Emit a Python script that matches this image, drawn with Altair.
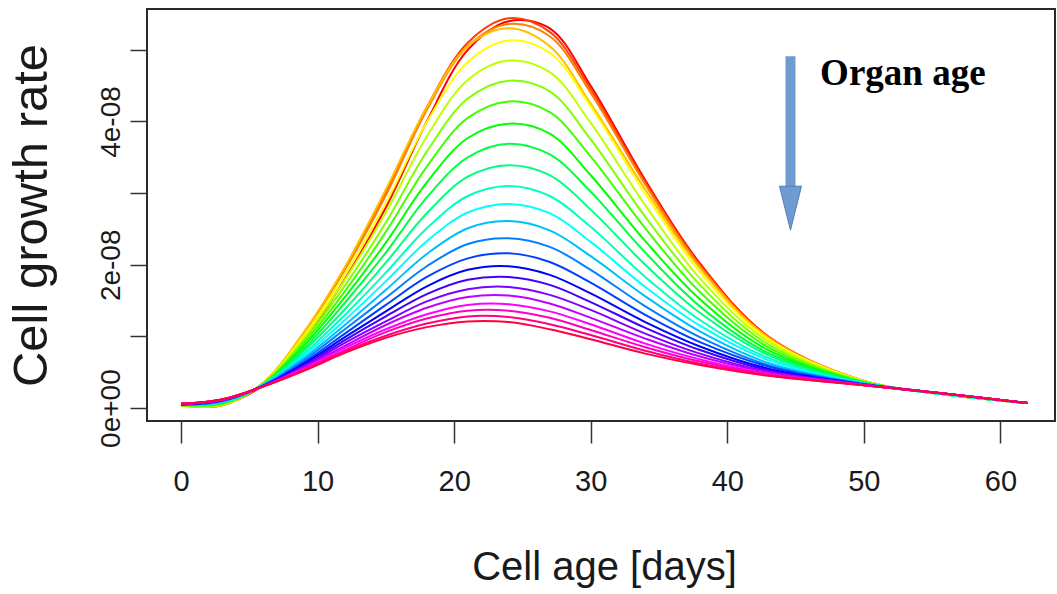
import altair as alt
import pandas as pd

# ---- data (rates in units of 1e-08) ----
days = [0, 3, 6, 9, 12, 15, 18, 21, 24, 27, 30, 34, 38, 43, 50, 56, 62]

c01 = [0.04, 0.05, 0.32, 0.95, 1.80, 2.80, 4.00, 5.00, 5.40, 5.30, 4.50, 3.18, 2.02, 1.00, 0.38, 0.19, 0.07]
c02 = [0.04, 0.04, 0.35, 1.05, 1.95, 3.00, 4.20, 5.10, 5.44, 5.25, 4.45, 3.15, 2.00, 1.00, 0.38, 0.19, 0.07]
c03 = [0.04, 0.04, 0.35, 1.04, 1.93, 2.97, 4.16, 5.05, 5.36, 5.19, 4.40, 3.12, 1.98, 0.99, 0.38, 0.19, 0.07]
c04 = [0.04, 0.04, 0.35, 1.06, 1.97, 3.05, 4.20, 5.05, 5.30, 5.05, 4.25, 3.05, 1.95, 0.98, 0.38, 0.19, 0.07]
c05 = [0.04, 0.05, 0.35, 1.01, 1.87, 2.86, 3.99, 4.83, 5.13, 4.96, 4.21, 2.99, 1.90, 0.96, 0.38, 0.19, 0.07]
c06 = [0.04, 0.05, 0.34, 0.98, 1.79, 2.73, 3.79, 4.58, 4.85, 4.69, 3.98, 2.83, 1.81, 0.93, 0.37, 0.19, 0.07]
c07 = [0.04, 0.06, 0.34, 0.94, 1.71, 2.59, 3.58, 4.32, 4.57, 4.42, 3.75, 2.67, 1.72, 0.89, 0.37, 0.19, 0.07]
c08 = [0.04, 0.06, 0.34, 0.91, 1.63, 2.46, 3.37, 4.05, 4.28, 4.13, 3.51, 2.51, 1.62, 0.85, 0.36, 0.19, 0.07]
c09 = [0.05, 0.07, 0.33, 0.87, 1.55, 2.31, 3.15, 3.77, 3.97, 3.83, 3.25, 2.33, 1.52, 0.81, 0.36, 0.19, 0.07]
c10 = [0.05, 0.07, 0.33, 0.83, 1.47, 2.17, 2.94, 3.50, 3.69, 3.54, 3.02, 2.17, 1.42, 0.77, 0.36, 0.19, 0.07]
c11 = [0.05, 0.08, 0.33, 0.80, 1.38, 2.03, 2.72, 3.23, 3.39, 3.25, 2.77, 2.00, 1.33, 0.74, 0.35, 0.19, 0.07]
c12 = [0.05, 0.08, 0.32, 0.76, 1.30, 1.89, 2.51, 2.96, 3.10, 2.96, 2.53, 1.83, 1.23, 0.70, 0.35, 0.19, 0.07]
c13 = [0.05, 0.09, 0.32, 0.73, 1.23, 1.77, 2.33, 2.73, 2.85, 2.72, 2.32, 1.69, 1.15, 0.67, 0.34, 0.19, 0.07]
c14 = [0.05, 0.09, 0.32, 0.70, 1.16, 1.65, 2.15, 2.51, 2.61, 2.48, 2.12, 1.56, 1.07, 0.63, 0.34, 0.20, 0.07]
c15 = [0.05, 0.10, 0.31, 0.67, 1.10, 1.54, 1.98, 2.29, 2.37, 2.25, 1.93, 1.42, 0.99, 0.60, 0.34, 0.20, 0.07]
c16 = [0.05, 0.10, 0.31, 0.64, 1.04, 1.44, 1.83, 2.09, 2.16, 2.04, 1.75, 1.30, 0.92, 0.58, 0.33, 0.20, 0.07]
c17 = [0.05, 0.11, 0.31, 0.62, 0.99, 1.35, 1.70, 1.93, 1.98, 1.86, 1.60, 1.20, 0.86, 0.55, 0.33, 0.20, 0.07]
c18 = [0.05, 0.11, 0.31, 0.60, 0.95, 1.28, 1.59, 1.79, 1.83, 1.72, 1.48, 1.12, 0.81, 0.53, 0.33, 0.20, 0.07]
c19 = [0.06, 0.11, 0.31, 0.58, 0.91, 1.21, 1.49, 1.66, 1.69, 1.58, 1.37, 1.04, 0.76, 0.51, 0.33, 0.20, 0.07]
c20 = [0.06, 0.11, 0.30, 0.57, 0.87, 1.16, 1.40, 1.55, 1.57, 1.46, 1.26, 0.97, 0.72, 0.50, 0.33, 0.20, 0.07]
c21 = [0.06, 0.12, 0.30, 0.55, 0.84, 1.10, 1.31, 1.44, 1.45, 1.35, 1.17, 0.90, 0.68, 0.48, 0.32, 0.20, 0.07]
c22 = [0.06, 0.12, 0.30, 0.54, 0.81, 1.06, 1.25, 1.36, 1.36, 1.26, 1.09, 0.85, 0.65, 0.47, 0.32, 0.20, 0.07]
c23 = [0.06, 0.12, 0.30, 0.53, 0.79, 1.01, 1.18, 1.28, 1.27, 1.17, 1.02, 0.80, 0.62, 0.46, 0.32, 0.20, 0.07]
c24 = [0.06, 0.12, 0.30, 0.52, 0.77, 0.98, 1.13, 1.21, 1.20, 1.10, 0.96, 0.76, 0.60, 0.45, 0.32, 0.20, 0.07]

curves = [c01, c02, c03, c04, c05, c06, c07, c08, c09, c10, c11, c12,
          c13, c14, c15, c16, c17, c18, c19, c20, c21, c22, c23, c24]

colors = ["#FF0000", "#FF4000", "#FF8000", "#FFBF00", "#FFFF00", "#BFFF00",
          "#80FF00", "#40FF00", "#00FF00", "#00FF40", "#00FF80", "#00FFBF",
          "#00FFFF", "#00BFFF", "#0080FF", "#0040FF", "#0000FF", "#4000FF",
          "#8000FF", "#BF00FF", "#FF00FF", "#FF00BF", "#FF0080", "#FF0040"]

x_ticks = [0, 10, 20, 30, 40, 50, 60]
y_ticks = [0, 1, 2, 3, 4, 5]
y_tick_labels = {0: "0e+00", 2: "2e-08", 4: "4e-08"}

arrow_day = [44.63]
arrow_top = [4.91]
arrow_shaft_end = [3.05]
arrow_head = [2.79]
note_text = ["Organ age"]
note_day = [46.8]
note_rate = [4.51]

# ---- build tables ----
ids = [f"c{i + 1:02d}" for i in range(len(curves))]
rows = []
for cid, vals in zip(ids, curves):
    for d, v in zip(days, vals):
        rows.append({"curve": cid, "day": d, "rate": v})
df = pd.DataFrame(rows)

shaft_df = pd.DataFrame({"day": arrow_day, "rate": arrow_top, "rate2": arrow_shaft_end})
head_df = pd.DataFrame({"day": arrow_day, "rate": arrow_head})
note_df = pd.DataFrame({"day": note_day, "rate": note_rate, "text": note_text})

SANS = "Liberation Sans, Arial, sans-serif"

label_expr = " : ".join(
    f"datum.value == {k} ? '{v}'" for k, v in y_tick_labels.items()
) + " : ''"

x_scale = alt.Scale(domain=[-2.49, 64.0], nice=False, zero=False)
y_scale = alt.Scale(domain=[-0.18, 5.57], nice=False, zero=False)

x_axis = alt.Axis(
    values=x_ticks, title="Cell age [days]", domain=False, grid=False,
    tickSize=22, tickWidth=1.5, tickColor="#333333",
    labelFont=SANS, labelFontSize=29, labelPadding=24, labelColor="#1a1a1a",
    titleFont=SANS, titleFontSize=40, titleFontWeight="normal", titleColor="#1a1a1a",
    titleX=457, titleY=158, titleAlign="center", titleBaseline="alphabetic",
)
y_axis = alt.Axis(
    values=y_ticks, labelExpr=label_expr, title="Cell growth rate",
    domain=False, grid=False,
    tickSize=17, tickWidth=1.5, tickColor="#333333",
    labelFont=SANS, labelFontSize=28, labelAngle=270, labelAlign="center",
    labelBaseline="alphabetic", labelPadding=11, labelColor="#1a1a1a",
    titleFont=SANS, titleFontSize=49, titleFontWeight="normal", titleColor="#1a1a1a",
    titleAngle=270, titleX=-101, titleY=206, titleAlign="center", titleBaseline="alphabetic",
)

x_enc = alt.X("day:Q", scale=x_scale, axis=x_axis)
y_enc = alt.Y("rate:Q", scale=y_scale, axis=y_axis)

lines = alt.Chart(df).mark_line(strokeWidth=2, interpolate="catmull-rom").encode(
    x=x_enc,
    y=y_enc,
    color=alt.Color("curve:N", scale=alt.Scale(domain=ids, range=colors), legend=None),
)

shaft = alt.Chart(shaft_df).mark_rule(strokeWidth=10, color="#6f9bd1").encode(
    x=x_enc, y=y_enc, y2=alt.Y2("rate2:Q")
)

head = alt.Chart(head_df).mark_point(
    shape="M-0.5,-1L0.5,-1L0,1Z", size=1936, filled=True, fill="#6f9bd1",
    stroke="#4f7fbf", strokeWidth=1, opacity=1,
).encode(x=x_enc, y=y_enc)

note = alt.Chart(note_df).mark_text(
    align="left", baseline="alphabetic", font="Liberation Serif, Times New Roman, serif",
    fontSize=37, fontWeight="bold", color="#000000",
).encode(x=x_enc, y=y_enc, text="text:N")

chart = alt.layer(lines, shaft, head, note).properties(
    width=908, height=412,
    autosize=alt.AutoSizeParams(type="none"),
    padding={"left": 147, "top": 9, "right": 2, "bottom": 173},
    background="white",
).configure_view(stroke="#2a2a2a", strokeWidth=2)

chart.save("out.html", embed_options={"renderer": "svg", "actions": False})
